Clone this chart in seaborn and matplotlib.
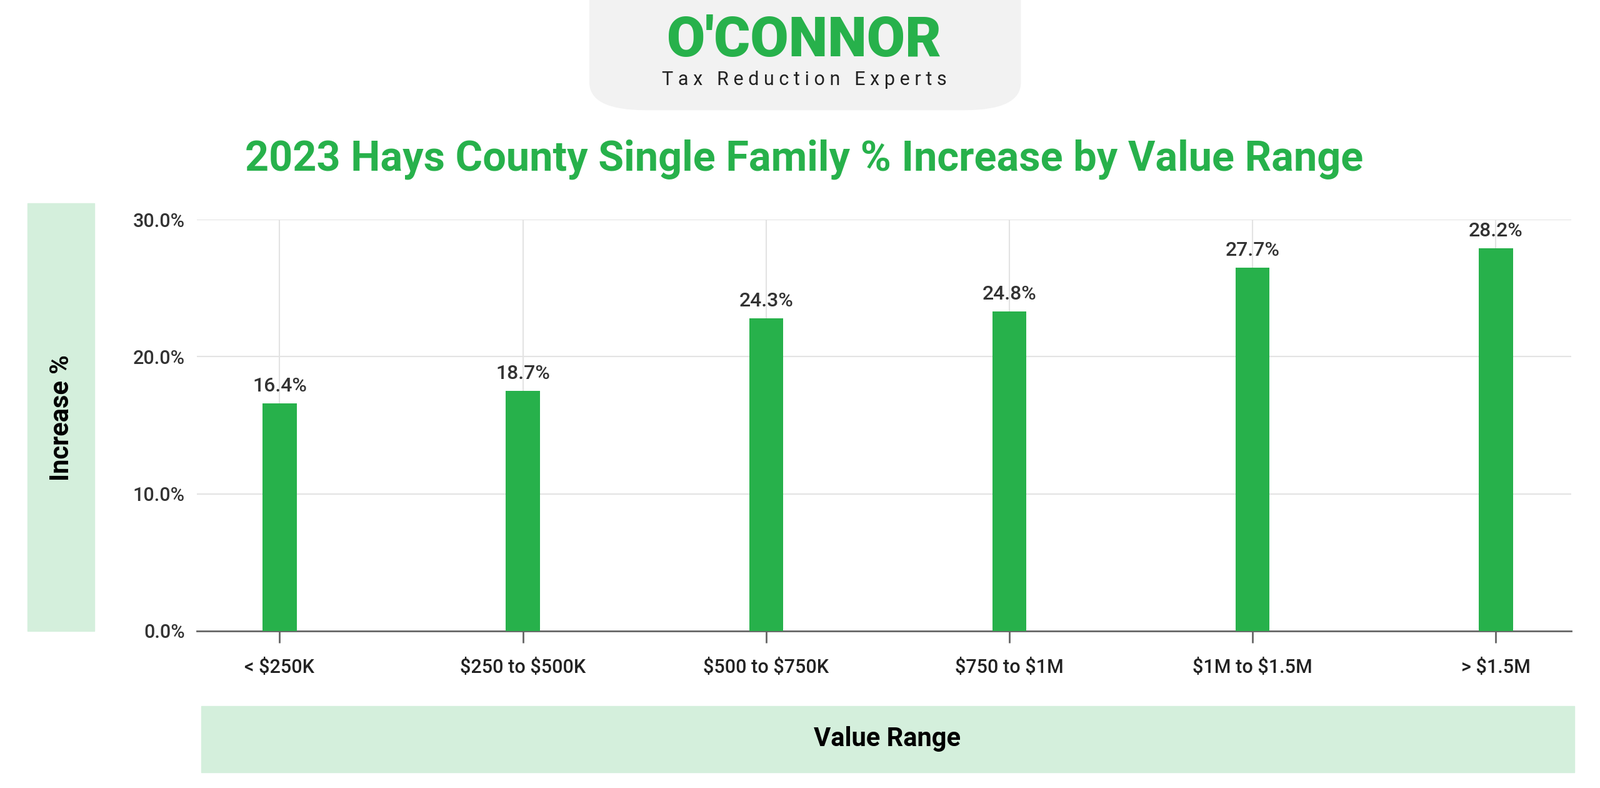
import matplotlib
matplotlib.use('Agg')
import matplotlib.pyplot as plt
import seaborn as sns
import pandas as pd
from matplotlib.patches import FancyBboxPatch, Rectangle

plt.rcParams['font.family'] = 'Roboto'
plt.rcParams['text.parse_math'] = False

# 数据
categories = ['< $250K', '$250 to $500K', '$500 to $750K', '$750 to $1M', '$1M to $1.5M', '> $1.5M']
increase = [16.4, 18.7, 24.3, 24.8, 27.7, 28.2]
bar_heights = [16.6, 17.5, 22.8, 23.3, 26.5, 27.9]
y_ticks = [0, 10, 20, 30]

green = '#27b14b'
light = '#d4efdc'
W, H = 1560, 768

df = pd.DataFrame({'range': categories, 'value': bar_heights})

fig = plt.figure(figsize=(25.6, 12.6), dpi=100)

def fx(x): return x / W
def fy(y): return 1 - y / H

# 背景装饰
fig.patches.append(FancyBboxPatch((fx(575), fy(107)), fx(420), 107 / H + 0.05,
                                  boxstyle='round,pad=0,rounding_size=0.035',
                                  transform=fig.transFigure, color='#f2f2f2', zorder=0))
fig.patches.append(Rectangle((fx(27), fy(615)), fx(65), (615 - 198) / H,
                             transform=fig.transFigure, color=light, zorder=0))
fig.patches.append(Rectangle((fx(196), fy(753)), fx(1339), (753 - 688) / H,
                             transform=fig.transFigure, color=light, zorder=0))

fig.text(fx(784), fy(40), "O'CONNOR", color=green, fontsize=64, fontweight='black',
         ha='center', va='center')
fig.text(fx(784), fy(78), 'T a x   R e d u c t i o n   E x p e r t s', color='#222222',
         fontsize=22, ha='center', va='center')
fig.text(fx(784), fy(155), '2023 Hays County Single Family % Increase by Value Range',
         color=green, fontsize=48, fontweight='bold', ha='center', va='center')
fig.text(fx(60), fy(407), 'Increase %', rotation=90, fontsize=30, fontweight='bold',
         ha='center', va='center')
fig.text(fx(865), fy(720), 'Value Range', fontsize=30, fontweight='bold',
         ha='center', va='center')

ax = fig.add_axes([fx(192), fy(615), fx(1532 - 192), (615 - 214) / H])
sns.barplot(data=df, x='range', y='value', color=green, width=0.14, ax=ax, zorder=3,
            saturation=1)
ax.set_xlim(-0.34, 5.31)
ax.set_ylim(0, 30)
ax.set_yticks(y_ticks)
ax.set_yticklabels([f'{t:.1f}%' for t in y_ticks], fontsize=22, color='#333333',
                   fontweight='medium')
ax.tick_params(axis='y', length=0, pad=14)
ax.tick_params(axis='x', labelsize=22, colors='#666666', length=14, width=2, pad=18)
for lab in ax.get_xticklabels():
    lab.set_color('#222222')
    lab.set_fontweight('medium')
ax.set_xlabel('')
ax.set_ylabel('')
for t in y_ticks[1:]:
    ax.axhline(t, color='#e3e3e3', lw=1.5, zorder=1)
for i, v in enumerate(bar_heights):
    ax.plot([i, i], [v, 30], color='#e3e3e3', lw=1.5, zorder=1)
    ax.text(i, v + 0.6, f'{increase[i]}%', ha='center', va='bottom', fontsize=23,
            color='#333333', fontweight='medium')
for s in ['top', 'right', 'left']:
    ax.spines[s].set_visible(False)
ax.spines['bottom'].set_color('#666666')
ax.spines['bottom'].set_linewidth(2)

fig.savefig('out.png', dpi=100)
